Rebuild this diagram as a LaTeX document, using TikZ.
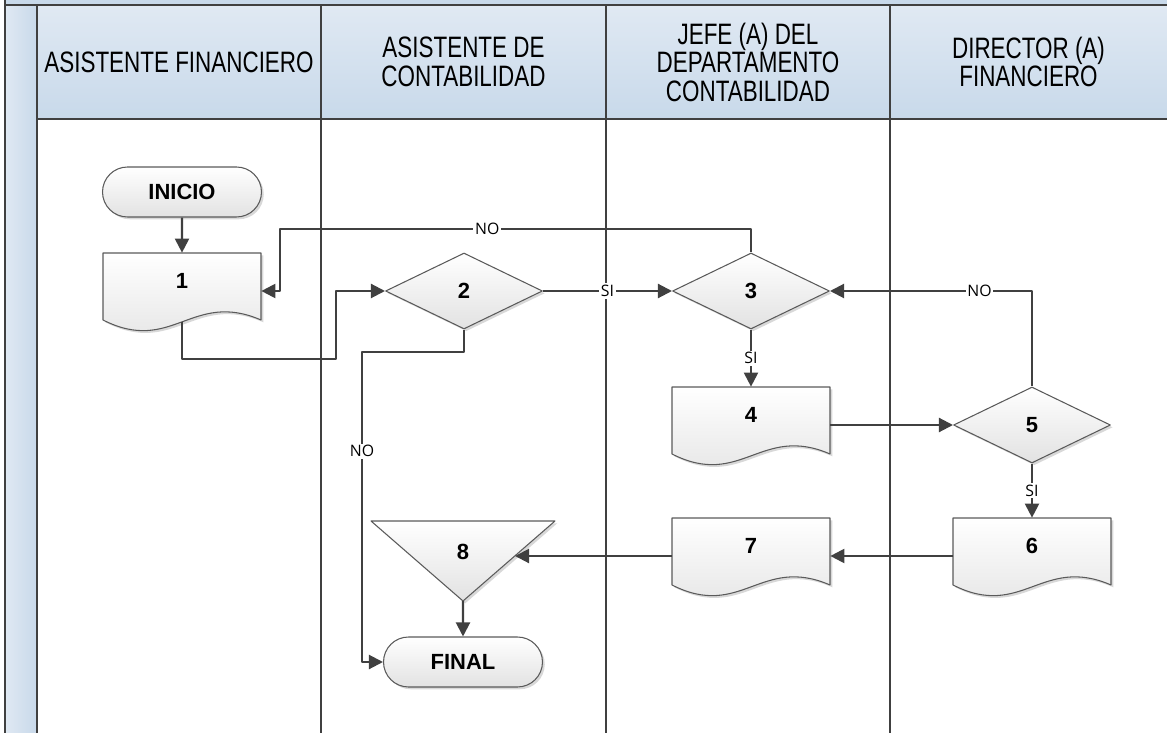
\documentclass[tikz,border=0pt]{standalone}
\usepackage{fontspec}
\setmainfont{Liberation Sans}
\newfontfamily\headfont{Liberation Sans}[FakeStretch=0.76]
\newfontfamily\tagfont{Open Sans}
\usetikzlibrary{arrows.meta,shapes.geometric,shapes.misc,shadows}
\definecolor{linegray}{HTML}{404040}
\definecolor{edgegray}{HTML}{5A5A5A}
\definecolor{headtop}{HTML}{E0E9F3}
\definecolor{headbot}{HTML}{C8D9EA}
\definecolor{boxbot}{HTML}{E2E2E2}
\tikzset{
 lane/.style={draw=linegray,line width=1.3pt},
 head/.style={align=center,font=\headfont\fontsize{16.8}{16.2}\selectfont},
 box/.style={draw=edgegray,line width=0.6pt,top color=white,bottom color=boxbot,
  drop shadow={shadow xshift=1.3pt,shadow yshift=-1.3pt,fill=black!30,opacity=0.5}},
 tag/.style={font=\bfseries\fontsize{12.5}{14}\selectfont},
 term/.style={box,tag,rounded rectangle,minimum width=3.18cm,minimum height=1cm,inner sep=0pt},
 dec/.style={box,tag,diamond,aspect=2.07,minimum width=3.14cm,minimum height=1.52cm,inner sep=0pt},
 docu/.style={tag,minimum width=3.16cm,minimum height=1.52cm,text height=8pt,text depth=10.8pt},
 conn/.style={draw=linegray,line width=1.2pt,->},
 lab/.style={fill=white,inner sep=1pt,text=black,font=\tagfont\fontsize{9}{10}\selectfont}
}
\newcommand{\Doc}[4]{%
 \path[box] (#2-79,#3) -- (#2+79,#3) -- (#2+79,#3+67)
  .. controls (#2+10,#3+37) and (#2-10,#3+102) .. (#2-79,#3+67) -- cycle;
 \node[docu] (#1) at (#2,#3+38) {#4};
 \coordinate (#1-b) at (#2,#3+69);
}
\begin{document}
\begin{tikzpicture}[x=0.02cm,y=-0.02cm,line join=round,>={Triangle[length=8pt,width=8pt]}]
 \useasboundingbox (0,0) rectangle (1167,733);
 \fill[headbot] (5,0) rectangle (1167,5);
 \shade[top color=headtop,bottom color=headbot] (37,5) rectangle (1167,119);
 \shade[left color=headtop,right color=headbot] (5,5) rectangle (37,733);
 \draw[lane] (5,0)--(5,733);
 \draw[lane] (37,5)--(37,733);
 \draw[lane] (5,5)--(1167,5);
 \draw[lane] (37,119)--(1167,119);
 \foreach \x in {321,606,890}
 \draw[lane,line width=1pt] (\x,5)--(\x,733);
 \foreach \x/\t [count=\i] in {179/{ASISTENTE FINANCIERO},463.5/{ASISTENTE DE\\CONTABILIDAD},
  748/{JEFE (A) DEL\\DEPARTAMENTO\\CONTABILIDAD},1028.5/{DIRECTOR (A)\\FINANCIERO}}
 \node[head] (role\i) at (\x,62) {\t};

 \node[term] (ini) at (182,192) {INICIO};
 \Doc{d1}{182}{253}{1}
 \node[dec] (n2) at (464,291) {2};
 \node[dec] (n3) at (751,291) {3};
 \Doc{d4}{751}{387}{4}
 \node[dec] (n5) at (1032,425) {5};
 \Doc{d6}{1032}{518}{6}
 \Doc{d7}{751}{518}{7}
 \path[box] (371,521) -- (555,521) -- (463,601) -- cycle;
 \node[tag] (n8) at (463,552) {8};
 \coordinate (t8in) at (515,556);
 \coordinate (t8out) at (463,601);
 \node[term] (fin) at (463,662) {FINAL};

 \draw[conn] (ini) -- (d1);
 \draw[conn] (d1-b) |- (336,359) |- (n2.west);
 \draw[conn] (n2) -- node[lab]{SI} (n3);
 \draw[conn] (n3.north) -- (751,229) -- node[lab,pos=0.56]{NO} (280,229) |- (d1.east);
 \draw[conn] (n2.south) |- (362,352) -- node[lab,pos=0.32]{NO} (362,662) -- (fin.west);
 \draw[conn] (n3) -- node[lab]{SI} (d4);
 \draw[conn] (d4.east) -- (n5.west);
 \draw[conn] (n5.north) |- node[lab,pos=0.63]{NO} (n3.east);
 \draw[conn] (n5) -- node[lab]{SI} (d6);
 \draw[conn] (d6.west) -- (d7.east);
 \draw[conn] (d7.west) -- (t8in);
 \draw[conn] (t8out) -- (fin);
\end{tikzpicture}
\end{document}
